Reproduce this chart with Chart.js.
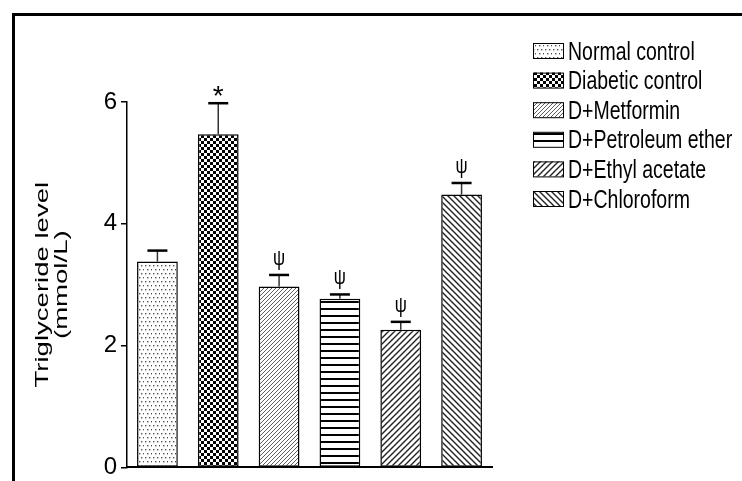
<!DOCTYPE html>
<html><head><meta charset="utf-8">
<script src="https://cdn.jsdelivr.net/npm/chart.js@4/dist/chart.umd.min.js"></script>
<style>html,body{margin:0;padding:0;background:#fff;}canvas{display:block;}</style>
</head><body>
<canvas id="c" width="742" height="481"></canvas>
<script>
const groups = ['Normal control', 'Diabetic control', 'D+Metformin', 'D+Petroleum ether', 'D+Ethyl acetate', 'D+Chloroform'];
const meanValues = [3.38, 5.47, 2.97, 2.77, 2.26, 4.48];
const semValues = [0.18, 0.51, 0.19, 0.07, 0.13, 0.19];
const markers = ['', '*', 'ψ', 'ψ', 'ψ', 'ψ'];
const yTicks = [0, 2, 4, 6];
const yTitle = ['Triglyceride level', '(mmol/L)'];
const patternKinds = ['dots', 'checker', 'fineDiag', 'hlines', 'diag', 'backDiag'];

function makePattern(kind) {
  const c = document.createElement('canvas');
  const g = c.getContext('2d');
  let w, h;
  const diag = (size, color, lw, back) => {
    g.strokeStyle = color; g.lineWidth = lw; g.beginPath();
    if (!back) {
      g.moveTo(0, size); g.lineTo(size, 0);
      g.moveTo(-1, 1); g.lineTo(1, -1);
      g.moveTo(size - 1, size + 1); g.lineTo(size + 1, size - 1);
    } else {
      g.moveTo(0, 0); g.lineTo(size, size);
      g.moveTo(-1, size - 1); g.lineTo(1, size + 1);
      g.moveTo(size - 1, -1); g.lineTo(size + 1, 1);
    }
    g.stroke();
  };
  switch (kind) {
    case 'dots':
      w = h = 8; c.width = w; c.height = h;
      g.fillStyle = '#fff'; g.fillRect(0, 0, w, h);
      g.fillStyle = '#555';
      [[1, 1], [5, 1], [3, 5], [7, 5]].forEach(p => g.fillRect(p[0], p[1], 1.4, 1.4));
      break;
    case 'checker':
      w = h = 6; c.width = w; c.height = h;
      g.fillStyle = '#fff'; g.fillRect(0, 0, w, h);
      g.fillStyle = '#000';
      g.fillRect(0, 0, 3, 3); g.fillRect(3, 3, 3, 3);
      break;
    case 'fineDiag':
      w = h = 4; c.width = w; c.height = h;
      g.fillStyle = '#fff'; g.fillRect(0, 0, w, h);
      diag(4, '#5a5a5a', 1, false);
      break;
    case 'hlines':
      w = 4; h = 7; c.width = w; c.height = h;
      g.fillStyle = '#fff'; g.fillRect(0, 0, w, h);
      g.fillStyle = '#000'; g.fillRect(0, 0, w, 2);
      break;
    case 'diag':
      w = h = 6; c.width = w; c.height = h;
      g.fillStyle = '#fff'; g.fillRect(0, 0, w, h);
      diag(6, '#222', 1.4, false);
      break;
    case 'backDiag':
      w = h = 6; c.width = w; c.height = h;
      g.fillStyle = '#fff'; g.fillRect(0, 0, w, h);
      diag(6, '#222', 1.4, true);
      break;
  }
  return document.createElement('canvas').getContext('2d').createPattern(c, 'repeat');
}
const patterns = patternKinds.map(makePattern);

function drawCenteredGlyph(ctx, text, cx, cy, font, sy) {
  ctx.save();
  ctx.translate(cx, cy);
  ctx.scale(1, sy);
  ctx.font = font;
  ctx.textAlign = 'center';
  ctx.textBaseline = 'alphabetic';
  const m = ctx.measureText(text);
  const off = (m.actualBoundingBoxAscent - m.actualBoundingBoxDescent) / 2;
  ctx.fillStyle = '#000';
  ctx.fillText(text, 0, off);
  ctx.restore();
}

const decor = {
  id: 'decor',
  beforeDraw(chart) {
    const ctx = chart.ctx;
    ctx.save();
    ctx.fillStyle = '#fff';
    ctx.fillRect(0, 0, chart.width, chart.height);
    ctx.fillStyle = '#000';
    ctx.fillRect(12, 13, chart.width - 12, 3);
    ctx.fillRect(12, 13, 3, chart.height - 13);
    ctx.restore();
  },
  afterDatasetsDraw(chart) {
    const ctx = chart.ctx;
    const ys = chart.scales.y;
    const meta = chart.getDatasetMeta(0);
    ctx.save();
    meta.data.forEach((bar, i) => {
      const x = bar.x;
      const yTop = ys.getPixelForValue(meanValues[i]);
      const yErr = ys.getPixelForValue(meanValues[i] + semValues[i]);
      ctx.strokeStyle = '#333'; ctx.lineWidth = 1.5;
      ctx.beginPath(); ctx.moveTo(x, yTop); ctx.lineTo(x, yErr); ctx.stroke();
      ctx.strokeStyle = '#000'; ctx.lineWidth = 2.5;
      ctx.beginPath(); ctx.moveTo(x - 10, yErr); ctx.lineTo(x + 10, yErr); ctx.stroke();
      if (markers[i] === '*') {
        drawCenteredGlyph(ctx, markers[i], x, yErr - 12, '28px "Liberation Sans"', 1);
      } else if (markers[i]) {
        drawCenteredGlyph(ctx, markers[i], x, yErr - 16, '17px "Liberation Sans"', 1.3);
      }
    });
    ctx.restore();
  },
  afterDraw(chart) {
    const ctx = chart.ctx;
    const ys = chart.scales.y;
    ctx.save();
    groups.forEach((label, i) => {
      const by = 43 + i * 29.6;
      ctx.fillStyle = patterns[i];
      ctx.fillRect(533, by, 30, 15);
      ctx.strokeStyle = '#000'; ctx.lineWidth = 1;
      ctx.strokeRect(533.5, by + 0.5, 30, 15);
      const cy = by + 7.5;
      ctx.save();
      ctx.translate(568, cy);
      ctx.scale(1, 1.3);
      ctx.font = '19.5px "Liberation Sans"';
      ctx.fillStyle = '#000';
      ctx.textAlign = 'left';
      ctx.textBaseline = 'alphabetic';
      ctx.fillText(label, 0, 0.716 * 19.5 / 2);
      ctx.restore();
    });
    const yc = (ys.top + ys.bottom) / 2;
    const baseXs = [48, 67];
    yTitle.forEach((line, k) => {
      ctx.save();
      ctx.translate(baseXs[k], yc);
      ctx.rotate(-Math.PI / 2);
      ctx.scale(1.45, 1);
      ctx.font = '19px "Liberation Sans"';
      ctx.fillStyle = '#000';
      ctx.textAlign = 'center';
      ctx.textBaseline = 'alphabetic';
      ctx.fillText(line, 0, 0);
      ctx.restore();
    });
    ctx.restore();
  }
};

new Chart(document.getElementById('c').getContext('2d'), {
  type: 'bar',
  data: {
    labels: groups,
    datasets: [{
      data: meanValues,
      backgroundColor: patterns,
      borderColor: '#000',
      borderWidth: 1.5,
      borderSkipped: false,
      barPercentage: 0.67,
      categoryPercentage: 1
    }]
  },
  options: {
    responsive: false,
    animation: false,
    devicePixelRatio: 1,
    layout: { padding: { left: 0, top: 102, right: 250, bottom: 11 } },
    plugins: { legend: { display: false }, tooltip: { enabled: false } },
    scales: {
      x: {
        grid: { display: false },
        border: { display: true, color: '#000', width: 2 },
        ticks: { display: false },
        afterFit: s => { s.height = 0; }
      },
      y: {
        min: 0, max: 6,
        afterBuildTicks: s => { s.ticks = yTicks.map(v => ({ value: v })); },
        grid: { display: true, drawOnChartArea: false, drawTicks: true, tickLength: 6, color: '#000', lineWidth: 1.5 },
        border: { display: true, color: '#000', width: 1.5 },
        ticks: { font: { family: '"Liberation Sans Narrow", "Liberation Sans"', size: 24, lineHeight: 0.8 }, color: '#000', padding: 4 },
        afterFit: s => { s.width = 127; }
      }
    }
  },
  plugins: [decor]
});
</script>
</body></html>
